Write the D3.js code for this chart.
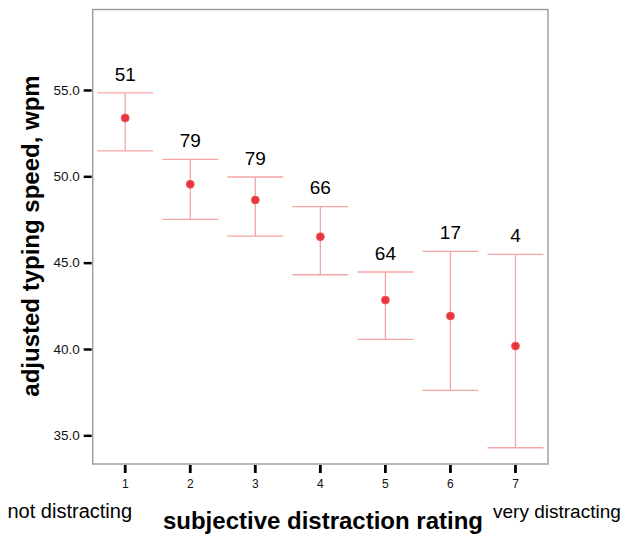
<!DOCTYPE html>
<html>
<head>
<meta charset="utf-8">
<script src="https://cdn.jsdelivr.net/npm/d3@7"></script>
<style>
  html, body { margin: 0; padding: 0; background: #fff; }
  svg { display: block; font-family: "Liberation Sans", Arial, Helvetica, sans-serif; }
</style>
</head>
<body>
<svg id="chart" width="631" height="537"></svg>
<script>
// Data
const categories = ["1", "2", "3", "4", "5", "6", "7"];
const means  = [53.38, 49.54, 48.63, 46.50, 42.83, 41.91, 40.17];
const upper  = [54.83, 50.98, 49.96, 48.24, 44.46, 45.65, 45.48];
const lower  = [51.47, 47.51, 46.54, 44.30, 40.56, 37.60, 34.28];
const counts = ["51", "79", "79", "66", "64", "17", "4"];
const yTicks = [35, 40, 45, 50, 55];
const yTitle = "adjusted typing speed, wpm";
const xTitle = "subjective distraction rating";
const leftNote = "not distracting";
const rightNote = "very distracting";

const svg = d3.select("#chart");
const box = { left: 92.7, right: 548, top: 9.5, bottom: 464 };

const x = d3.scaleBand().domain(categories).range([box.left, box.right]).padding(0);
const y = d3.scaleLinear().domain([33.34, 59.66]).range([box.bottom, box.top]);

const barColor = "#f7a6a6";
const dotColor = "#e8363c";

// plot frame
svg.append("rect")
  .attr("x", box.left).attr("y", box.top)
  .attr("width", box.right - box.left).attr("height", box.bottom - box.top)
  .attr("fill", "none").attr("stroke", "#9a9a9a").attr("stroke-width", 1.4);

// y axis
const yAxis = d3.axisLeft(y).tickValues(yTicks).tickFormat(d3.format(".1f")).tickSize(8).tickPadding(4);
const gy = svg.append("g").attr("transform", `translate(${box.left - 1},0)`).call(yAxis);
gy.select(".domain").remove();
gy.selectAll(".tick line").attr("stroke", "#000").attr("stroke-width", 2.5);
gy.selectAll(".tick text").style("font-size", "13.5px").attr("fill", "#111")
  .style("font-family", "Liberation Sans, Arial, sans-serif");

// x axis
const xAxis = d3.axisBottom(x).tickSize(8).tickPadding(6);
const gx = svg.append("g").attr("transform", `translate(0,${box.bottom + 1})`).call(xAxis);
gx.select(".domain").remove();
gx.selectAll(".tick line").attr("stroke", "#000").attr("stroke-width", 2.8);
gx.selectAll(".tick text").style("font-size", "12px").attr("fill", "#111")
  .style("font-family", "Liberation Sans, Arial, sans-serif");

// error bars
const data = categories.map((c, i) => ({ c, m: means[i], hi: upper[i], lo: lower[i], n: counts[i] }));
const capHalf = x.bandwidth() * 0.43;
const g = svg.append("g");
data.forEach(d => {
  const cx = x(d.c) + x.bandwidth() / 2;
  g.append("line").attr("x1", cx).attr("x2", cx).attr("y1", y(d.hi)).attr("y2", y(d.lo))
    .attr("stroke", barColor).attr("stroke-width", 1.3);
  [d.hi, d.lo].forEach(v => {
    g.append("line").attr("x1", cx - capHalf).attr("x2", cx + capHalf).attr("y1", y(v)).attr("y2", y(v))
      .attr("stroke", barColor).attr("stroke-width", 1.3);
  });
  g.append("circle").attr("cx", cx).attr("cy", y(d.m)).attr("r", 4)
    .attr("fill", dotColor).attr("stroke", "#f05a5f").attr("stroke-width", 0.8);
  g.append("text").attr("x", cx).attr("y", y(d.hi) - 12.3)
    .attr("text-anchor", "middle").attr("font-size", 19).attr("fill", "#000").text(d.n);
});

// titles
svg.append("text")
  .attr("transform", `translate(${box.left - 54},236) rotate(-90)`)
  .attr("text-anchor", "middle").attr("font-size", 24).attr("font-weight", "bold")
  .attr("fill", "#000").text(yTitle);

svg.append("text").attr("x", 323).attr("y", 529)
  .attr("text-anchor", "middle").attr("font-size", 24).attr("font-weight", "bold")
  .attr("fill", "#000").text(xTitle);

svg.append("text").attr("x", 7.5).attr("y", 518)
  .attr("font-size", 20).attr("fill", "#000").text(leftNote);

svg.append("text").attr("x", 493).attr("y", 518)
  .attr("font-size", 19).attr("fill", "#000").text(rightNote);
</script>
</body>
</html>
